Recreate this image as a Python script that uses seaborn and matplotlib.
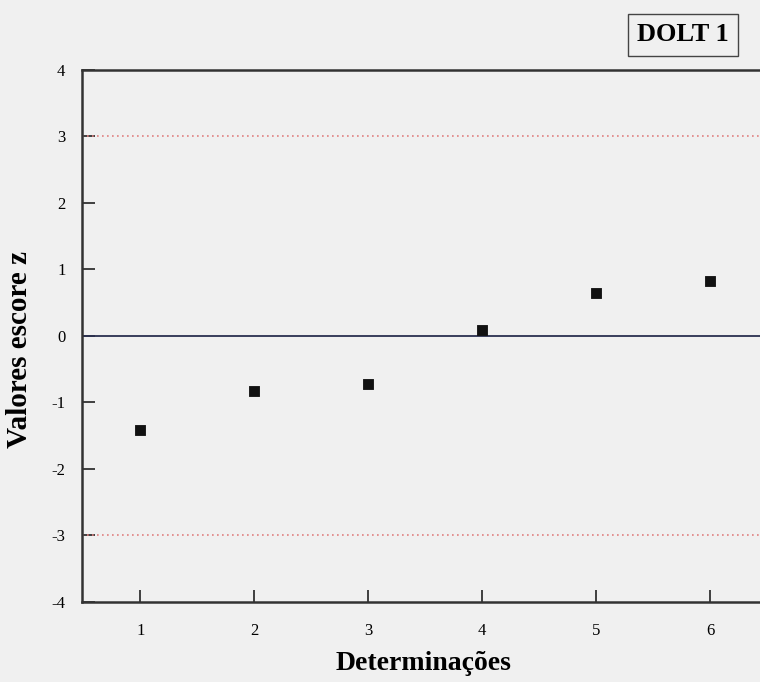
import matplotlib
matplotlib.use("Agg")
import matplotlib.pyplot as plt
import seaborn as sns
import pandas as pd

# dados
determinacoes = [1, 2, 3, 4, 5, 6]
escore_z = [-1.41, -0.83, -0.72, 0.09, 0.65, 0.83]
y_ticks = [-4, -3, -2, -1, 0, 1, 2, 3, 4]
limites = [-3, 3]

df = pd.DataFrame({"Determinações": determinacoes, "Valores escore z": escore_z})

sns.set_style("ticks")
plt.rcParams['font.family'] = ['Liberation Serif', 'DejaVu Serif']
plt.rcParams['axes.unicode_minus'] = False
plt.rcParams['text.color'] = 'black'
plt.rcParams['axes.labelcolor'] = 'black'
plt.rcParams['xtick.labelcolor'] = 'black'
plt.rcParams['ytick.labelcolor'] = 'black'

fig = plt.figure(figsize=(7.6, 6.82), dpi=100, facecolor="#f0f0f0")
ax = fig.add_axes([0.108, 0.1173, 0.894, 0.7801])
ax.set_facecolor("#f0f0f0")

sns.scatterplot(data=df, x="Determinações", y="Valores escore z", marker="s",
                s=60, color="#111111", edgecolor="#111111", ax=ax, zorder=3)

ax.axhline(0, color="#2a3050", lw=1.3, zorder=2)
for lim in limites:
    ax.axhline(lim, color="#e08080", lw=1.2, ls=(0, (1, 2)), zorder=1)

ax.set_xlim(0.49, 6.45)
ax.set_ylim(-4, 4)
ax.set_xticks(determinacoes)
ax.set_yticks(y_ticks)
ax.tick_params(direction="in", length=9, width=1.2, labelsize=12, color="#222222",
               labelcolor="black")
ax.tick_params(axis="x", pad=15)
ax.tick_params(axis="y", pad=12)
for s in ["left", "top", "bottom"]:
    ax.spines[s].set_linewidth(1.8)
    ax.spines[s].set_color("#333333")
ax.spines["right"].set_visible(False)

ax.set_xlabel("Determinações", fontsize=20, fontweight="bold")
ax.set_ylabel("Valores escore z", fontsize=21, fontweight="bold")
ax.xaxis.set_label_coords(0.502, -0.093)
ax.yaxis.set_label_coords(-0.072, 0.474)

fig.text(0.899, 0.949, "DOLT 1", fontsize=19, fontweight="bold", ha="center", va="center",
         bbox=dict(boxstyle="square,pad=0.35", facecolor="#f0f0f0", edgecolor="#444444", lw=1.0))

fig.savefig("out.png", dpi=100, facecolor=fig.get_facecolor())
